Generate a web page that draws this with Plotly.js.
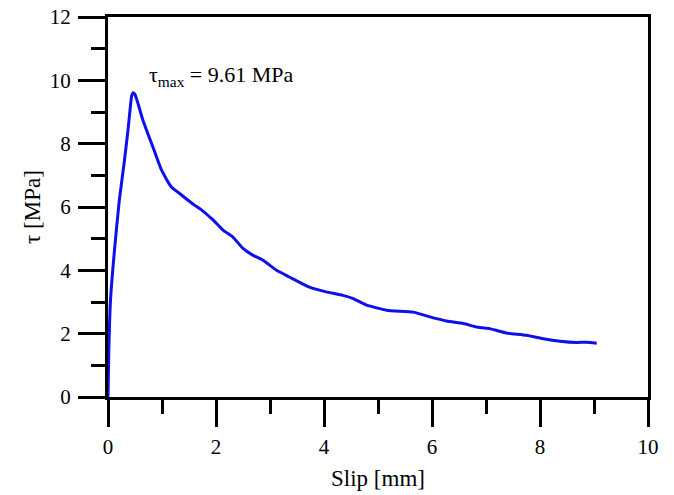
<!DOCTYPE html>
<html>
<head>
<meta charset="utf-8">
<script src="https://cdn.plot.ly/plotly-3.0.1.min.js"></script>
<style>html,body{margin:0;padding:0;background:#fff}#chart{width:674px;height:495px}</style>
</head>
<body>
<div id="chart"></div>
<script>
const slip = [0, 0.015, 0.046, 0.12, 0.21, 0.30, 0.37, 0.41, 0.44, 0.47, 0.50, 0.55, 0.645, 0.83, 0.99, 1.17, 1.36, 1.60, 1.70, 1.94, 2.13, 2.31, 2.50, 2.68, 2.87, 3.12, 3.36, 3.73, 4.04, 4.35, 4.54, 4.79, 5.16, 5.65, 5.96, 6.27, 6.58, 6.85, 7.07, 7.20, 7.38, 7.75, 8.06, 8.37, 8.68, 8.86, 9.05];
const tau  = [0, 1.47, 3.05, 4.64, 6.22, 7.40, 8.43, 9.10, 9.52, 9.61, 9.55, 9.30, 8.75, 7.90, 7.17, 6.64, 6.38, 6.06, 5.95, 5.60, 5.27, 5.06, 4.69, 4.48, 4.32, 4.00, 3.79, 3.47, 3.32, 3.21, 3.11, 2.90, 2.74, 2.68, 2.53, 2.40, 2.32, 2.20, 2.16, 2.10, 2.02, 1.95, 1.84, 1.76, 1.72, 1.73, 1.70];
const tauMaxLabel = "τ<sub>max</sub> = 9.61 MPa";
const xTitle = "Slip [mm]";
const yTitle = "τ [MPa]";

const font = "'Liberation Serif', 'Times New Roman', Times, serif";
const axisCommon = {
  showgrid: false, zeroline: false, showline: true, mirror: true,
  linecolor: "#000", linewidth: 3,
  ticks: "outside", ticklen: 27, tickwidth: 3, tickcolor: "#000",
  tickfont: {family: font, size: 21, color: "#000"},
  minor: {ticks: "outside", ticklen: 14, tickwidth: 3, tickcolor: "#000", dtick: 1}
};
const layout = {
  width: 674, height: 495,
  font: {family: font, size: 21, color: "#000"},
  margin: {l: 108, r: 26, t: 17, b: 98},
  paper_bgcolor: "#fff", plot_bgcolor: "#fff",
  showlegend: false,
  xaxis: Object.assign({}, axisCommon, {
    range: [0, 10], dtick: 2, tick0: 0,
    ticklabelstandoff: 2,
    title: {text: xTitle, font: {family: font, size: 23, color: "#000"}, standoff: 12}
  }),
  yaxis: Object.assign({}, axisCommon, {
    range: [0, 12], dtick: 2, tick0: 0,
    ticklabelstandoff: 3,
    title: {text: yTitle, font: {family: font, size: 23, color: "#000"}, standoff: 3}
  }),
  annotations: [{
    x: 2.1, y: 10.14, xref: "x", yref: "y", showarrow: false,
    text: tauMaxLabel, font: {family: font, size: 22, color: "#000"}
  }]
};
Plotly.newPlot("chart", [{
  x: slip, y: tau, type: "scatter", mode: "lines",
  line: {color: "rgb(15,15,235)", width: 3, shape: "spline", smoothing: 0.5}
}], layout, {staticPlot: true, displayModeBar: false});
</script>
</body>
</html>
